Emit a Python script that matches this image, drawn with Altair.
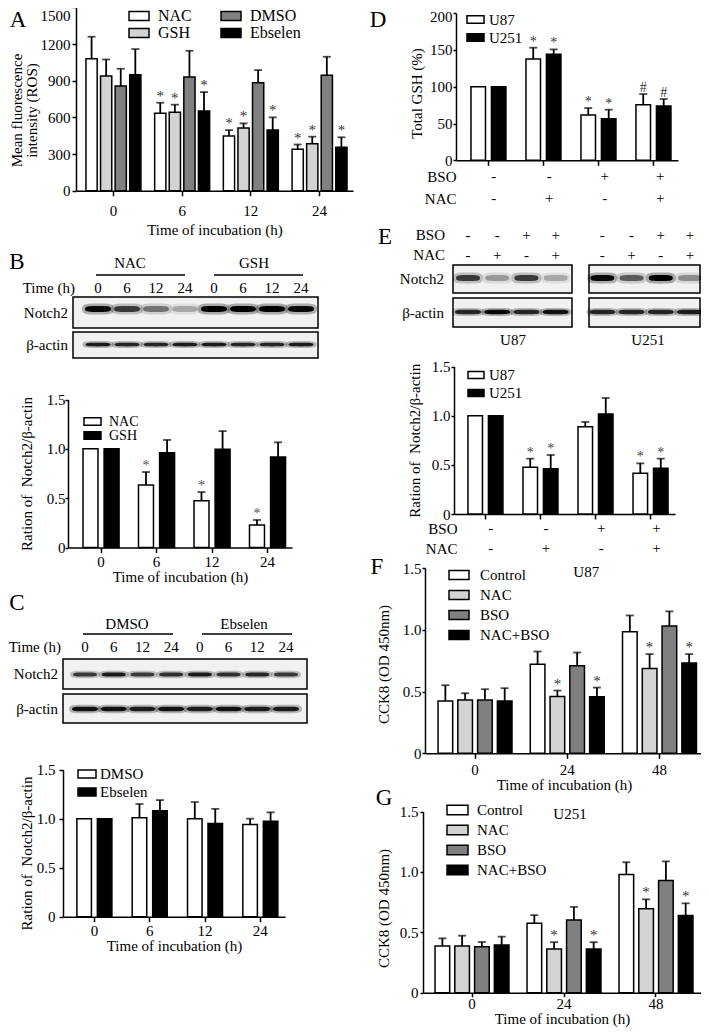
import altair as alt
import pandas as pd

W, H = 693, 1019
FONT = "Liberation Serif"
WHITE, LIGHT, MID, BLACK = "#ffffff", "#d3d3d3", "#808080", "#000000"
SWATCH = "M-1,-0.45L1,-0.45L1,0.45L-1,0.45Z"


def px(x):
    return x - 8


def py(y):
    return y - 8


# ======================= DATA =======================
# A : ROS
A_groups = ["0", "6", "12", "24"]
A_series = ["NAC", "GSH", "DMSO", "Ebselen"]
A_mean = {"NAC": [1080, 633, 447, 339], "GSH": [938, 641, 513, 385],
          "DMSO": [856, 930, 884, 944], "Ebselen": [949, 652, 496, 355]}
A_top = {"NAC": [1260, 720, 496, 378], "GSH": [1074, 704, 551, 442],
         "DMSO": [998, 1145, 987, 1096], "Ebselen": [1159, 807, 600, 437]}
A_sig = {"NAC": ["", "*", "*", "*"], "GSH": ["", "*", "*", "*"],
         "DMSO": ["", "", "", ""], "Ebselen": ["", "*", "*", "*"]}

# B : Notch2 / beta-actin, NAC vs GSH
B_groups = ["0", "6", "12", "24"]
B_series = ["NAC", "GSH"]
B_mean = {"NAC": [1.0, 0.633, 0.474, 0.228], "GSH": [1.0, 0.96, 0.995, 0.917]}
B_top = {"NAC": [1.0, 0.765, 0.562, 0.279], "GSH": [1.0, 1.09, 1.18, 1.066]}
B_sig = {"NAC": ["", "*", "*", "*"], "GSH": ["", "", "", ""]}
B_lane_labels = ["0", "6", "12", "24", "0", "6", "12", "24"]
B_notch = [0.95, 0.7, 0.45, 0.25, 1.0, 1.0, 1.0, 0.95]
B_actin = [0.85, 0.8, 0.8, 0.85, 0.85, 0.8, 0.8, 0.85]

# C : Notch2 / beta-actin, DMSO vs Ebselen
C_groups = ["0", "6", "12", "24"]
C_series = ["DMSO", "Ebselen"]
C_mean = {"DMSO": [1.0, 1.01, 1.0, 0.94], "Ebselen": [1.0, 1.08, 0.95, 0.975]}
C_top = {"DMSO": [1.0, 1.15, 1.17, 1.0], "Ebselen": [1.0, 1.19, 1.10, 1.065]}
C_sig = {"DMSO": ["", "", "", ""], "Ebselen": ["", "", "", ""]}
C_lane_labels = ["0", "6", "12", "24", "0", "6", "12", "24"]
C_notch = [0.7, 0.85, 0.7, 0.75, 0.85, 0.75, 0.8, 0.7]
C_actin = [0.9, 0.9, 0.85, 0.9, 0.85, 0.9, 0.85, 0.85]

# D : total GSH
D_groups = ["c1", "c2", "c3", "c4"]
D_series = ["U87", "U251"]
D_mean = {"U87": [100, 137.6, 61.5, 75.6], "U251": [100, 144, 56.6, 73.8]}
D_top = {"U87": [100, 153, 71, 90], "U251": [100, 150.7, 68.8, 83.3]}
D_sig = {"U87": ["", "*", "*", "#"], "U251": ["", "*", "*", "#"]}
D_BSO = ["-", "-", "+", "+"]
D_NAC = ["-", "+", "-", "+"]

# E : Notch2 / beta-actin in U87 / U251
E_groups = ["c1", "c2", "c3", "c4"]
E_series = ["U87", "U251"]
E_mean = {"U87": [1.0, 0.475, 0.888, 0.414], "U251": [1.0, 0.461, 1.017, 0.464]}
E_top = {"U87": [1.0, 0.563, 0.936, 0.515], "U251": [1.0, 0.60, 1.18, 0.563]}
E_sig = {"U87": ["", "*", "", "*"], "U251": ["", "*", "", "*"]}
E_BSO = ["-", "-", "+", "+"]
E_NAC = ["-", "+", "-", "+"]
E_blot_BSO = ["-", "-", "+", "+", "-", "-", "+", "+"]
E_blot_NAC = ["-", "+", "-", "+", "-", "+", "-", "+"]
E_notch = [0.7, 0.3, 0.7, 0.25, 0.95, 0.55, 1.0, 0.35]
E_actin = [0.8, 0.95, 0.8, 0.9, 0.8, 0.8, 0.8, 0.85]

# F / G : CCK8
FG_groups = ["0", "24", "48"]
FG_series = ["Control", "NAC", "BSO", "NAC+BSO"]
F_mean = {"Control": [0.424, 0.72, 0.984], "NAC": [0.432, 0.459, 0.686],
          "BSO": [0.432, 0.708, 1.03], "NAC+BSO": [0.424, 0.457, 0.73]}
F_top = {"Control": [0.551, 0.824, 1.116], "NAC": [0.486, 0.508, 0.803],
         "BSO": [0.519, 0.816, 1.149], "NAC+BSO": [0.527, 0.532, 0.803]}
G_mean = {"Control": [0.387, 0.574, 0.978], "NAC": [0.387, 0.361, 0.694],
          "BSO": [0.38, 0.601, 0.929], "NAC+BSO": [0.395, 0.361, 0.639]}
G_top = {"Control": [0.45, 0.642, 1.08], "NAC": [0.472, 0.418, 0.773],
         "BSO": [0.42, 0.71, 1.087], "NAC+BSO": [0.464, 0.418, 0.74]}
FG_sig = {"Control": ["", "", ""], "NAC": ["", "*", "*"],
          "BSO": ["", "", ""], "NAC+BSO": ["", "*", "*"]}

PANEL_LETTERS = ["A", "B", "C", "D", "E", "F", "G"]

RATIO_TITLE = "Ration of\u00a0 Notch2/\u03b2-actin"
TIME_TITLE = "Time of incubation (h)"


# ======================= BUILDERS =======================
def bar_panel(c):
    rows = []
    for s in c["series"]:
        for i, g in enumerate(c["groups"]):
            rows.append({"g": g, "s": s, "v": c["mean"][s][i],
                         "e": c["top"][s][i], "t": c["sig"][s][i]})
    df = pd.DataFrame(rows)
    xs = alt.Scale(domain=c["groups"], range=[px(c["x0"]), px(c["x1"])],
                   paddingInner=c["pi"], paddingOuter=c["po"], align=c["align"])
    ys = alt.Scale(domain=[0, c["ymax"]], range=[py(c["y0"]), py(c["ytop"])],
                   nice=False)
    xkw = dict(orient="bottom", offset=py(c["y0"]) - H, labelAngle=0,
               tickSize=c.get("xtick", 5),
               labelPadding=c.get("xlab_pad", 3), titlePadding=c.get("xtitle_pad", 0),
               title=c.get("xtitle"))
    if not c.get("xlabels", True):
        xkw["labels"] = False
    ykw = dict(orient="left", offset=-px(c["x0"]), values=c["yticks"],
               tickSize=c.get("ytick", 4), labelPadding=c.get("ylab_pad", 2),
               title=c["ytitle"], titlePadding=c.get("ytitle_pad", 4), titleLineHeight=15)
    if c.get("yfmt") == "d":
        ykw["format"] = "d"
    else:
        ykw["labelExpr"] = "datum.value == 0 ? '0' : format(datum.value, '.1f')"
    if "ytitle_y" in c:
        ykw["titleY"] = py(c["ytitle_y"])
    if "top_label_shift" in c:
        ykw["labelOffset"] = {"condition": {"test": f"datum.value == {c['ymax']}",
                                            "value": c["top_label_shift"]}, "value": 0}
    X = alt.X("g:N", scale=xs, axis=alt.Axis(**xkw))
    XO = alt.XOffset("s:N", scale=alt.Scale(domain=c["series"], paddingInner=c["opi"],
                                             paddingOuter=0))
    yax = alt.Axis(**ykw)
    L = c["leg"]
    legend = alt.Legend(orient="none", legendX=px(L["x"]), legendY=py(L["y"]), title=None,
                        direction="vertical", columns=L.get("cols", 1),
                        columnPadding=L.get("colpad", 10), rowPadding=0,
                        clipHeight=L["pitch"],
                        symbolType=SWATCH, symbolSize=L["w"] ** 2,
                        symbolStrokeColor="black", symbolStrokeWidth=1.5, symbolOpacity=1,
                        labelFont=FONT, labelFontSize=L["fs"], labelOffset=L["off"],
                        padding=0, labelLimit=300, labelColor="black")
    order = c["series"]
    base = alt.Chart(df)
    bars = base.mark_bar(stroke="black", strokeWidth=1.5).encode(
        x=X, xOffset=XO, y=alt.Y("v:Q", scale=ys, axis=yax),
        fill=alt.Fill("s:N", scale=alt.Scale(domain=order, range=[c["colors"][s] for s in order]),
                      legend=legend))
    witherr = base.transform_filter("datum.e > datum.v")
    err = witherr.mark_rule(color="black", strokeWidth=1.8).encode(
        x=X, xOffset=XO, y=alt.Y("v:Q", scale=ys, axis=yax), y2="e:Q")
    cap = witherr.mark_tick(color="black", thickness=1.8, size=c.get("cap", 8),
                            orient="horizontal").encode(
        x=X, xOffset=XO, y=alt.Y("e:Q", scale=ys, axis=yax))
    layers = [bars, err, cap]
    if any(t for s in c["series"] for t in c["sig"][s]):
        stars = base.transform_filter("datum.t != ''").mark_text(
            font=FONT, fontSize=c.get("star_fs", 15), color=c.get("star_color", "#333"),
            baseline="alphabetic", dy=c.get("star_dy", -2)).encode(
            x=X, xOffset=XO, y=alt.Y("e:Q", scale=ys, axis=yax), text="t:N")
        layers.append(stars)
    if "note" in c:
        t, g, v, dx = c["note"]
        note = alt.Chart(pd.DataFrame([{"g": g, "v": v, "t": t}])).mark_text(
            font=FONT, fontSize=15, baseline="middle", dx=dx, color="black").encode(
            x=X, y=alt.Y("v:Q", scale=ys, axis=yax), text="t:N")
        layers.append(note)
    return alt.layer(*layers)


def sign_table(c, labels, signs, ys_page, label_right):
    rows = []
    for r, sg in zip(labels, signs):
        for i, g in enumerate(c["groups"]):
            rows.append({"g": g, "r": r, "t": sg[i]})
    xs = alt.Scale(domain=c["groups"], range=[px(c["x0"]), px(c["x1"])],
                   paddingInner=c["pi"], paddingOuter=c["po"], align=c["align"])
    yscale = alt.Scale(type="point", domain=labels, range=[py(y) for y in ys_page], padding=0)
    return alt.Chart(pd.DataFrame(rows)).mark_text(
        font=FONT, fontSize=15, baseline="middle", color="black").encode(
        x=alt.X("g:N", scale=xs, axis=None),
        y=alt.Y("r:N", scale=yscale,
                axis=alt.Axis(orient="left", offset=-px(label_right), domain=False,
                              ticks=False, tickSize=0, labelPadding=0, title=None,
                              labelFontSize=15)),
        text="t:N")


def band_path(h):
    return (f"M-1,0C-1,-{h} -0.7,-{h} 0,-{h}C0.7,-{h} 1,-{h} 1,0"
            f"C1,{h} 0.7,{h} 0,{h}C-0.7,{h} -1,{h} -1,0Z")


def blot(c):
    span = c["laneN_px"] - c["lane0_px"]

    def ux(X):
        return (X - c["lane0_px"]) / span * c["lane_dom"]

    def uy(Y):
        return (Y - c["row0_px"]) / (c["row1_px"] - c["row0_px"])

    xs = alt.Scale(domain=[0, c["lane_dom"]], range=[px(c["lane0_px"]), px(c["laneN_px"])],
                   zero=False, nice=False)
    ys = alt.Scale(domain=[0, 1], range=[py(c["row0_px"]), py(c["row1_px"])],
                   zero=False, nice=False)
    Xq = alt.X("x:Q", scale=xs, axis=None)
    Yq = alt.Y("y:Q", scale=ys, axis=None)
    boxes = pd.DataFrame([{"x": ux(l), "x2": ux(r), "y": uy(t), "y2": uy(b)}
                          for (l, r) in c["boxes"] for (t, b) in c["strips"]])
    layers = [alt.Chart(boxes).mark_rect(fill="#f1f1f1", stroke="black", strokeWidth=1.5)
              .encode(x=Xq, x2="x2:Q", y=Yq, y2="y2:Q")]
    for inten, by, w, h in c["bands"]:
        df = pd.DataFrame({"x": c["lanes"], "y": uy(by), "i": inten})
        df["halo"] = df["i"] * 0.3
        layers.append(alt.Chart(df).mark_point(filled=True, shape=band_path(h * 1.5),
                                               size=(w + 6) ** 2, strokeWidth=0, color="black")
                      .encode(x=Xq, y=Yq, opacity=alt.Opacity("halo:Q", scale=None)))
        layers.append(alt.Chart(df).mark_point(filled=True, shape=band_path(h),
                                               size=w ** 2, strokeWidth=0, color="black")
                      .encode(x=Xq, y=Yq, opacity=alt.Opacity("i:Q", scale=None)))
    trows = []
    for labels, y in c["lane_rows"]:
        for lx, lab in zip(c["lanes"], labels):
            trows.append({"x": lx, "y": uy(y), "t": lab})
    for t, x, y in c["center_texts"]:
        trows.append({"x": ux(x), "y": uy(y), "t": t})
    layers.append(alt.Chart(pd.DataFrame(trows)).mark_text(
        font=FONT, fontSize=15, baseline="middle", align="center", color="black")
        .encode(x=Xq, y=Yq, text="t:N"))
    rt = pd.DataFrame([{"x": ux(x), "y": uy(y), "t": t} for t, x, y in c["right_texts"]])
    layers.append(alt.Chart(rt).mark_text(
        font=FONT, fontSize=15, baseline="middle", align="right", color="black")
        .encode(x=Xq, y=Yq, text="t:N"))
    if c["rules"]:
        rl = pd.DataFrame([{"x": ux(l), "x2": ux(r), "y": uy(y)} for l, r, y in c["rules"]])
        layers.append(alt.Chart(rl).mark_rule(color="black", strokeWidth=1.3)
                      .encode(x=Xq, x2="x2:Q", y=Yq))
    return alt.layer(*layers)


# ======================= PANELS =======================
A_cfg = dict(groups=A_groups, series=A_series, mean=A_mean, top=A_top, sig=A_sig,
             colors={"NAC": WHITE, "GSH": LIGHT, "DMSO": MID, "Ebselen": BLACK},
             x0=76, x1=353, pi=0.2, po=0.116, align=0.625, opi=0.23,
             y0=190.7, ytop=7.4, ymax=1500, yticks=[0, 300, 600, 900, 1200, 1500], yfmt="d",
             top_label_shift=8,
             ytitle=["Mean fluorescence", "intensity (ROS)"], ytitle_pad=1, ytitle_y=110,
             ytick=4, ylab_pad=2, xtitle=TIME_TITLE, xlab_pad=8, xtitle_pad=4,
             leg=dict(x=128, y=7.5, cols=2, colpad=28, pitch=17, w=20, fs=16, off=8),
             star_color="#333", star_fs=15, cap=8)

B_cfg = dict(groups=B_groups, series=B_series, mean=B_mean, top=B_top, sig=B_sig,
             colors={"NAC": WHITE, "GSH": BLACK},
             x0=68, x1=292, pi=0.35, po=0.193, align=0.70, opi=0.29,
             y0=547.5, ytop=399.5, ymax=1.5, yticks=[0, 0.5, 1.0, 1.5],
             ytitle=RATIO_TITLE, ytitle_pad=12, ytick=3, ylab_pad=0,
             xtitle=TIME_TITLE, xlab_pad=2, xtitle_pad=0,
             leg=dict(x=83, y=416.5, pitch=10, w=17, fs=14, off=7),
             star_color="#555", star_fs=14, cap=8)

C_cfg = dict(groups=C_groups, series=C_series, mean=C_mean, top=C_top, sig=C_sig,
             colors={"DMSO": WHITE, "Ebselen": BLACK},
             x0=63, x1=285, pi=0.367, po=0.19, align=0.66, opi=0.29,
             y0=916.7, ytop=769.7, ymax=1.5, yticks=[0, 0.5, 1.0, 1.5],
             ytitle=RATIO_TITLE, ytitle_pad=2, ytitle_y=853, ytick=4, ylab_pad=4,
             xtitle=TIME_TITLE, xlab_pad=2, xtitle_pad=0,
             leg=dict(x=77, y=765, pitch=18, w=18, fs=15, off=3), cap=8)

D_cfg = dict(groups=D_groups, series=D_series, mean=D_mean, top=D_top, sig=D_sig,
             colors={"U87": WHITE, "U251": BLACK},
             x0=456, x1=678, pi=0.364, po=0.2, align=0.68, opi=0.29,
             y0=160.3, ytop=13.1, ymax=200, yticks=[0, 50, 100, 150, 200], yfmt="d",
             top_label_shift=3,
             ytitle="Total GSH (%)", ytitle_pad=5, ytitle_y=93, ytick=3, ylab_pad=1,
             xtitle=None, xlabels=False,
             leg=dict(x=466, y=10.75, pitch=17.5, w=17, fs=15, off=4),
             star_color="#333", star_fs=14, cap=8)

E_cfg = dict(groups=E_groups, series=E_series, mean=E_mean, top=E_top, sig=E_sig,
             colors={"U87": WHITE, "U251": BLACK},
             x0=454, x1=675, pi=0.364, po=0.19, align=0.667, opi=0.29,
             y0=514, ytop=366.5, ymax=1.5, yticks=[0, 0.5, 1.0, 1.5],
             ytitle=RATIO_TITLE, ytitle_pad=9, ytick=3, ylab_pad=1,
             xtitle=None, xlabels=False,
             leg=dict(x=467, y=366, pitch=18, w=16, fs=15, off=4),
             star_color="#444", star_fs=14, cap=8)

F_cfg = dict(groups=FG_groups, series=FG_series, mean=F_mean, top=F_top, sig=FG_sig,
             colors={"Control": WHITE, "NAC": LIGHT, "BSO": MID, "NAC+BSO": BLACK},
             x0=425, x1=703, pi=0.198, po=0.106, align=0.667, opi=0.26,
             y0=753.3, ytop=568, ymax=1.5, yticks=[0, 0.5, 1.0, 1.5],
             ytitle="CCK8 (OD 450nm)", ytitle_pad=11, ytitle_y=664, ytick=3, ylab_pad=1,
             xtitle=TIME_TITLE, xlab_pad=4, xtitle_pad=0,
             leg=dict(x=448, y=565.35, pitch=19.3, w=20, fs=15, off=10),
             star_color="#333", star_fs=15, cap=8, note=("U87", "24", 1.467, 19))

G_cfg = dict(groups=FG_groups, series=FG_series, mean=G_mean, top=G_top, sig=FG_sig,
             colors={"Control": WHITE, "NAC": LIGHT, "BSO": MID, "NAC+BSO": BLACK},
             x0=423, x1=701, pi=0.196, po=0.109, align=0.6, opi=0.26,
             y0=992.7, ytop=811.5, ymax=1.5, yticks=[0, 0.5, 1.0, 1.5],
             ytitle="CCK8 (OD 450nm)", ytitle_pad=8, ytitle_y=908, ytick=3, ylab_pad=2,
             xtitle=TIME_TITLE, xtick=4, xlab_pad=0, xtitle_pad=0,
             leg=dict(x=446, y=800.15, pitch=19.7, w=21, fs=15, off=8),
             star_color="#333", star_fs=15, cap=8, note=("U251", "24", 1.48, 6))

B_blot = dict(lane0_px=98, laneN_px=301, lane_dom=7, lanes=[0, 1, 2, 3, 4, 5, 6, 7],
              row0_px=312.5, row1_px=345, boxes=[(73, 318)], strips=[(297, 328), (332, 358)],
              bands=[(B_notch, 309, 26, 0.23), (B_actin, 344.5, 25, 0.15)],
              lane_rows=[(B_lane_labels, 288)],
              center_texts=[("NAC", 130, 263), ("GSH", 254, 263)],
              right_texts=[("Time (h)", 75, 288), ("Notch2", 68, 312.5),
                           ("\u03b2-actin", 68, 345)],
              rules=[(96, 185, 275), (214, 303, 275)])

C_blot = dict(lane0_px=85, laneN_px=286, lane_dom=7, lanes=[0, 1, 2, 3, 4, 5, 6, 7],
              row0_px=674, row1_px=708.5, boxes=[(63, 307)], strips=[(659, 689), (694, 723)],
              bands=[(C_notch, 674.5, 24, 0.17), (C_actin, 709, 26, 0.18)],
              lane_rows=[(C_lane_labels, 647)],
              center_texts=[("DMSO", 127, 624), ("Ebselen", 244, 624)],
              right_texts=[("Time (h)", 61, 647), ("Notch2", 58, 674),
                           ("\u03b2-actin", 58, 708.5)],
              rules=[(83, 173, 634), (202, 292, 634)])

E_blot = dict(lane0_px=468, laneN_px=690, lane_dom=7.6,
              lanes=[0, 1, 2, 3, 4.6, 5.6, 6.6, 7.6],
              row0_px=279, row1_px=312.5, boxes=[(453, 572), (589, 700)],
              strips=[(265, 293), (298, 327)],
              bands=[(E_notch, 278, 24, 0.25), (E_actin, 312, 26, 0.17)],
              lane_rows=[(E_blot_BSO, 235), (E_blot_NAC, 255)],
              center_texts=[("U87", 513, 340), ("U251", 648, 340)],
              right_texts=[("BSO", 445, 235), ("NAC", 445, 255), ("Notch2", 444, 279),
                           ("\u03b2-actin", 444, 312.5)],
              rules=[])

letters_df = pd.DataFrame({"t": PANEL_LETTERS,
                           "x": [18, 17, 17, 378, 385, 377, 384],
                           "y": [20, 262, 603, 20, 237, 567, 798]})
letters = alt.Chart(letters_df).mark_text(
    font=FONT, fontSize=23, baseline="middle", align="center", color="black").encode(
    x=alt.X("x:Q", scale=alt.Scale(domain=[8, 8 + W], range=[0, W], zero=False, nice=False),
            axis=None),
    y=alt.Y("y:Q", scale=alt.Scale(domain=[8, 8 + H], range=[0, H], zero=False, nice=False),
            axis=None),
    text="t:N")

panels = [
    bar_panel(A_cfg),
    blot(B_blot), bar_panel(B_cfg),
    blot(C_blot), bar_panel(C_cfg),
    bar_panel(D_cfg), sign_table(D_cfg, ["BSO", "NAC"], [D_BSO, D_NAC], [176, 198], 456),
    blot(E_blot), bar_panel(E_cfg),
    sign_table(E_cfg, ["BSO", "NAC"], [E_BSO, E_NAC], [528, 548], 457),
    bar_panel(F_cfg), bar_panel(G_cfg),
    letters,
]

chart = alt.layer(*panels).resolve_scale(
    x="independent", y="independent", fill="independent", xOffset="independent",
    opacity="independent"
).resolve_axis(x="independent", y="independent").resolve_legend(
    fill="independent"
).properties(
    width=W, height=H, autosize=alt.AutoSizeParams(type="none"), padding=0,
    background="white"
).configure_view(stroke=None).configure_axis(
    labelFont=FONT, titleFont=FONT, labelFontSize=15, titleFontSize=15,
    titleFontWeight="normal", labelColor="black", titleColor="black",
    domainColor="black", tickColor="black", domainWidth=1.5, tickWidth=1.5, grid=False
).configure_legend(labelFont=FONT, labelColor="black")

chart.save("out.html", embed_options={"renderer": "svg", "actions": False})
